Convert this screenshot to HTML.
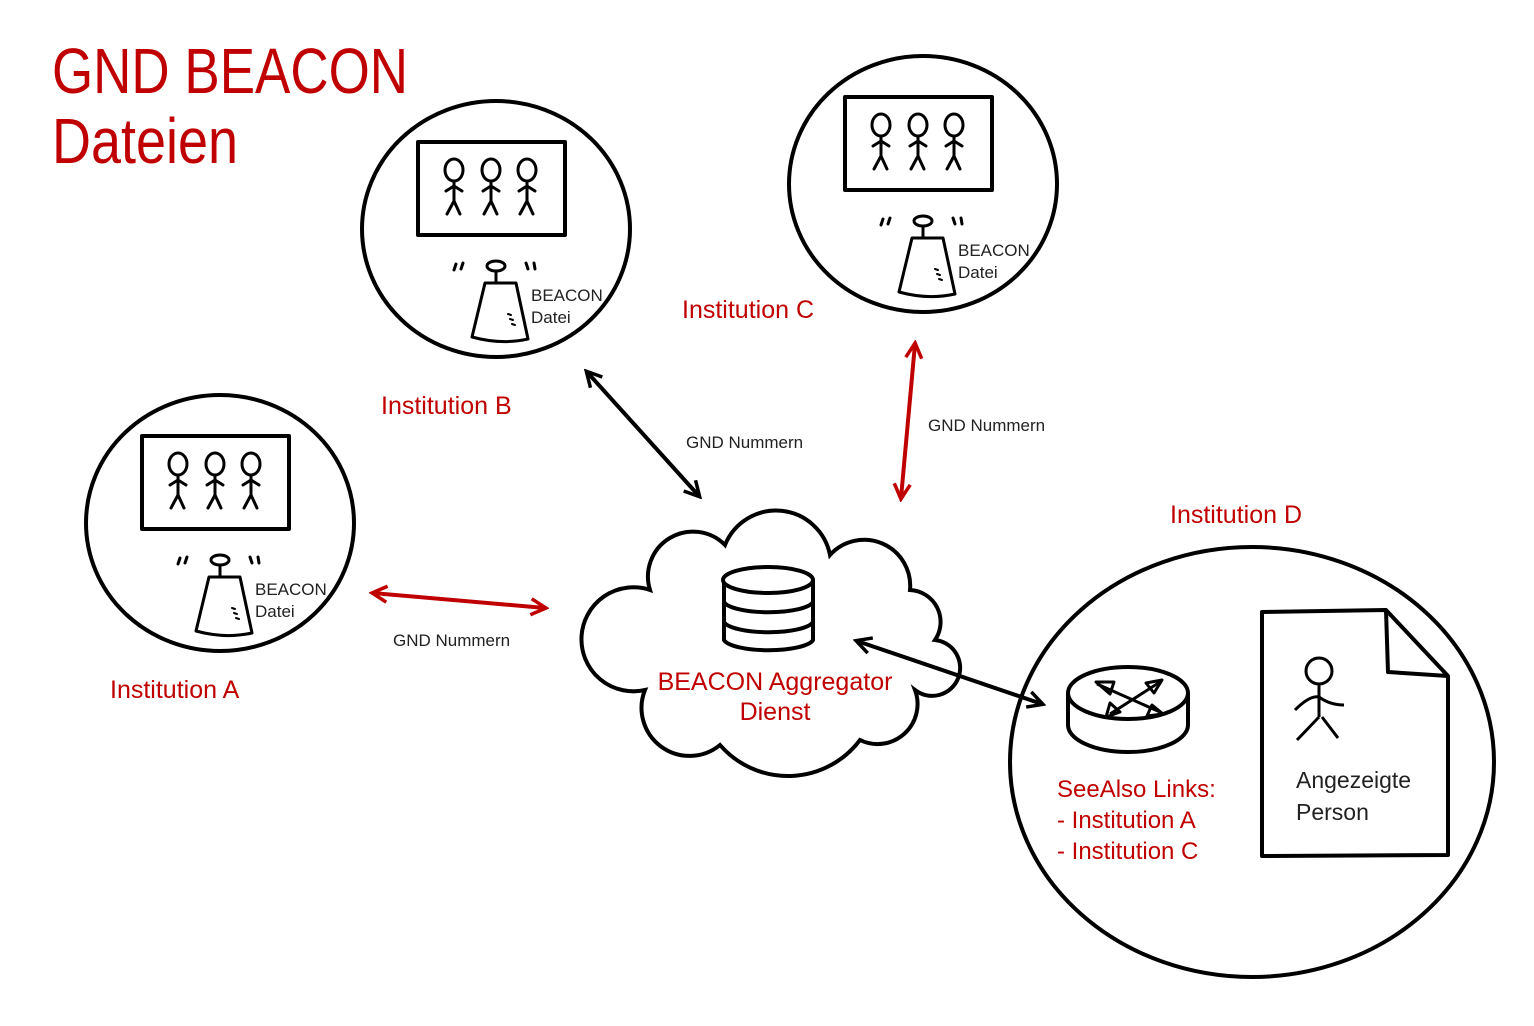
<!DOCTYPE html>
<html><head><meta charset="utf-8"><style>
html,body{margin:0;padding:0;background:#fff;}
svg{display:block;font-family:"Liberation Sans",sans-serif;}
.r{fill:#c00000}
.k{fill:#222}
</style></head><body>
<svg width="1534" height="1026" viewBox="0 0 1534 1026" xmlns="http://www.w3.org/2000/svg">
<defs>
<g id="inst" fill="none" stroke="#000" stroke-width="4" stroke-linecap="round" stroke-linejoin="round">
  <ellipse cx="0" cy="0" rx="134" ry="128"/>
  <rect x="-78" y="-87" width="147" height="93"/>
  <g stroke-width="3">
    <g transform="translate(-42,0)"><ellipse cx="0" cy="-59" rx="9" ry="11"/><path d="M0 -48 V-28 M-8 -38 L0 -43 L8 -38 M0 -28 L-7 -15 M0 -28 L6 -15"/></g>
    <g transform="translate(-5,0)"><ellipse cx="0" cy="-59" rx="9" ry="11"/><path d="M0 -48 V-28 M-8 -38 L0 -43 L8 -38 M0 -28 L-7 -15 M0 -28 L6 -15"/></g>
    <g transform="translate(31,0)"><ellipse cx="0" cy="-59" rx="9" ry="11"/><path d="M0 -48 V-28 M-8 -38 L0 -43 L8 -38 M0 -28 L-7 -15 M0 -28 L6 -15"/></g>
    <ellipse cx="0" cy="37" rx="9" ry="5"/>
    <path d="M0 42 V53"/>
    <path d="M-11 54 L20 54 L32 110 Q5 116 -24 108 Z"/>
    <path d="M-40 35 l-2 6 M-33 34 l-2 6 M30 34 l2 6 M38 34 l1 6"/>
    <path d="M12 85 l3 1 M14 90 l3 1 M16 95 l3 1" stroke-width="2"/>
  </g>
  <text x="35" y="72" font-size="17" fill="#222" stroke="none">BEACON</text>
  <text x="35" y="94" font-size="17" fill="#222" stroke="none">Datei</text>
</g>
<marker id="ak" viewBox="0 0 20 20" refX="16" refY="10" markerWidth="20" markerHeight="20" markerUnits="userSpaceOnUse" orient="auto-start-reverse"><path d="M2 2 L17 10 L2 18" fill="none" stroke="#000" stroke-width="3.5"/></marker>
<marker id="ar" viewBox="0 0 20 20" refX="16" refY="10" markerWidth="20" markerHeight="20" markerUnits="userSpaceOnUse" orient="auto-start-reverse"><path d="M2 2 L17 10 L2 18" fill="none" stroke="#c00000" stroke-width="3.5"/></marker>
</defs>

<text x="52" y="93" font-size="64" class="r" textLength="356" lengthAdjust="spacingAndGlyphs">GND BEACON</text>
<text x="52" y="163" font-size="64" class="r" textLength="186" lengthAdjust="spacingAndGlyphs">Dateien</text>

<use href="#inst" x="496" y="229"/>
<use href="#inst" x="923" y="184"/>
<use href="#inst" x="220" y="523"/>

<text x="381" y="414" font-size="25" class="r">Institution B</text>
<text x="682" y="318" font-size="25" class="r">Institution C</text>
<text x="110" y="698" font-size="25" class="r">Institution A</text>
<text x="1170" y="523" font-size="25" class="r">Institution D</text>

<!-- cloud -->
<path d="M645 690 A52 52 0 1 1 650 590 A45 45 0 0 1 725 545 A55 55 0 0 1 830 555 A46 46 0 0 1 910 590 A32 32 0 0 1 935 640 A28 28 0 1 1 915 690 A40 40 0 0 1 860 740 A90 90 0 0 1 720 745 A48 48 0 0 1 645 690 Z" fill="#fff" stroke="#000" stroke-width="4"/>
<g fill="none" stroke="#000" stroke-width="4">
  <path d="M724 580 V640 A45 12 0 0 0 813 640 V580"/>
  <ellipse cx="768" cy="580" rx="45" ry="13" fill="#fff"/>
  <path d="M724 602 A45 12 0 0 0 813 602 M724 622 A45 12 0 0 0 813 622"/>
</g>
<text x="775" y="690" font-size="25" class="r" text-anchor="middle">BEACON Aggregator</text>
<text x="775" y="720" font-size="25" class="r" text-anchor="middle">Dienst</text>

<!-- arrows -->
<line x1="587" y1="372" x2="699" y2="496" stroke="#000" stroke-width="4" marker-start="url(#ak)" marker-end="url(#ak)"/>
<line x1="915" y1="344" x2="901" y2="498" stroke="#c00000" stroke-width="4" marker-start="url(#ar)" marker-end="url(#ar)"/>
<line x1="373" y1="593" x2="545" y2="608" stroke="#c00000" stroke-width="4" marker-start="url(#ar)" marker-end="url(#ar)"/>
<line x1="857" y1="641" x2="1042" y2="704" stroke="#000" stroke-width="4" marker-start="url(#ak)" marker-end="url(#ak)"/>

<text x="686" y="448" font-size="17" class="k">GND Nummern</text>
<text x="928" y="431" font-size="17" class="k">GND Nummern</text>
<text x="393" y="646" font-size="17" class="k">GND Nummern</text>

<!-- Institution D -->
<ellipse cx="1252" cy="762" rx="242" ry="215" fill="none" stroke="#000" stroke-width="4"/>
<g fill="none" stroke="#000" stroke-width="4" stroke-linejoin="round">
  <path d="M1068 693 V725 A60 27 0 0 0 1188 725 V693"/>
  <ellipse cx="1128" cy="693" rx="60" ry="26"/>
  <path d="M1097 684 L1160 712 M1160 682 L1110 714" stroke-width="3"/>
  <path d="M1096 682 L1110 694 L1114 682 Z M1162 680 L1146 683 L1154 693 Z M1106 717 L1110 703 L1120 712 Z M1163 714 L1147 716 L1152 705 Z" stroke-width="3"/>
  <path d="M1262 612 L1386 610 L1448 676 L1448 855 L1262 856 Z"/>
  <path d="M1386 610 L1388 672 L1448 676"/>
  <g stroke-width="3"><circle cx="1319" cy="671" r="13"/><path d="M1319 684 V717 M1295 710 Q1310 695 1319 697 Q1330 705 1344 705 M1319 717 L1297 740 M1322 717 L1338 738"/></g>
</g>
<text x="1057" y="797" font-size="24" class="r">SeeAlso Links:</text>
<text x="1057" y="828" font-size="24" class="r">- Institution A</text>
<text x="1057" y="859" font-size="24" class="r">- Institution C</text>
<text x="1296" y="788" font-size="23" class="k">Angezeigte</text>
<text x="1296" y="820" font-size="23" class="k">Person</text>
</svg>
</body></html>
